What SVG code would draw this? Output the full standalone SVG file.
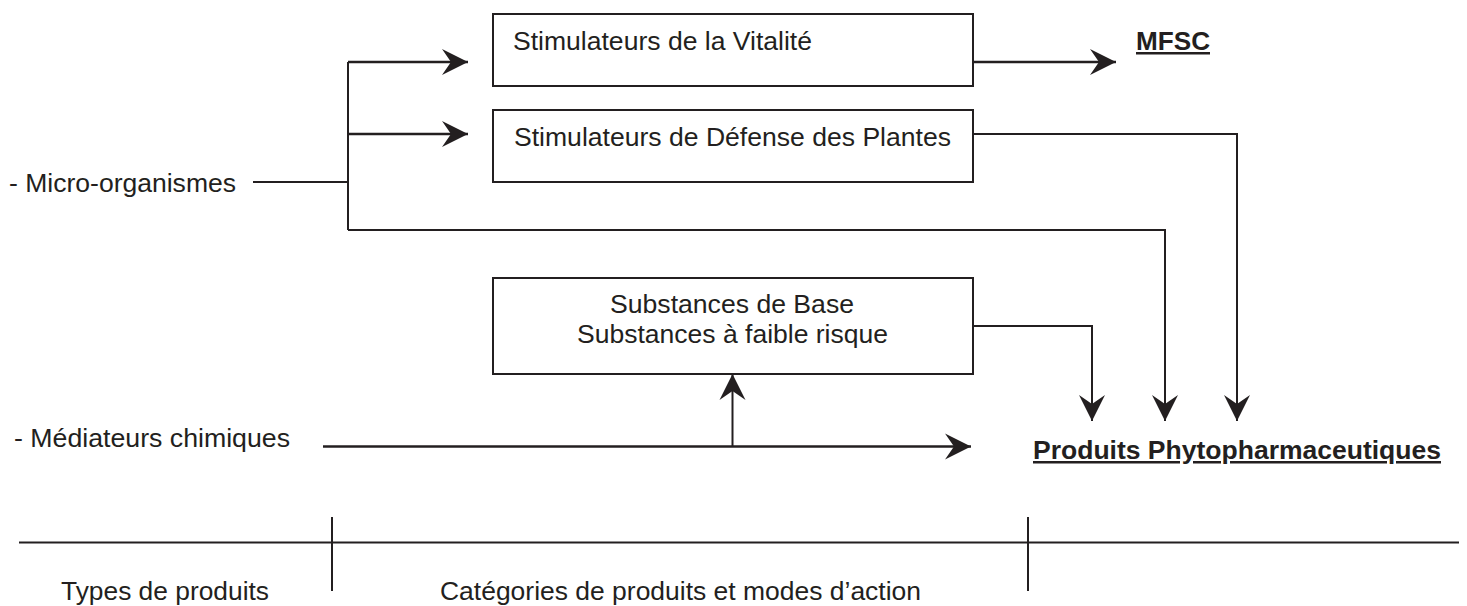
<svg xmlns="http://www.w3.org/2000/svg" width="1467" height="606" viewBox="0 0 1467 606">
<defs>
<style>
.box{fill:#fff;stroke:#231f20;stroke-width:2}
.ln{fill:none;stroke:#231f20;stroke-width:2.6}
.ln2{fill:none;stroke:#231f20;stroke-width:2}
.t{font-family:"Liberation Sans",Arial,sans-serif;font-size:25px;fill:#231f20}
.b{font-weight:bold;text-decoration:underline}
</style>
<marker id="ah" markerUnits="userSpaceOnUse" markerWidth="30" markerHeight="30" viewBox="-28 -15 30 30" refX="0" refY="0" orient="auto">
<path d="M0,0 L-26,-13 L-17,0 L-26,13 Z" fill="#231f20"/>
</marker>
</defs>
<rect width="1467" height="606" fill="#fff"/>
<g id="connectors">
<polyline class="ln2" points="253,182 348,182"/>
<polyline class="ln2" points="348,62 348,230"/>
<polyline class="ln" points="348,62 468,62" marker-end="url(#ah)"/>
<polyline class="ln" points="348,134 468,134" marker-end="url(#ah)"/>
<polyline class="ln2" points="348,230 1165,230 1165,421" marker-end="url(#ah)"/>
<polyline class="ln" points="973,62 1116,62" marker-end="url(#ah)"/>
<polyline class="ln2" points="973,134 1237,134 1237,421" marker-end="url(#ah)"/>
<polyline class="ln2" points="973,326 1092,326 1092,421" marker-end="url(#ah)"/>
<polyline class="ln" points="323,446.5 971,446.5" marker-end="url(#ah)"/>
<polyline class="ln2" points="732.5,446 732.5,374" marker-end="url(#ah)"/>
</g>
<g id="n-vitalite">
<rect class="box" x="493" y="14" width="480" height="72"/>
<text class="t" x="513" y="50" textLength="299" lengthAdjust="spacingAndGlyphs">Stimulateurs de la Vitalité</text>
</g>
<g id="n-defense">
<rect class="box" x="493" y="110" width="480" height="72"/>
<text class="t" x="514" y="146" textLength="437" lengthAdjust="spacingAndGlyphs">Stimulateurs de Défense des Plantes</text>
</g>
<g id="n-substances">
<rect class="box" x="493" y="278" width="480" height="96"/>
<text class="t" x="732" y="313" text-anchor="middle" textLength="244" lengthAdjust="spacingAndGlyphs">Substances de Base</text>
<text class="t" x="732.5" y="343" text-anchor="middle" textLength="311" lengthAdjust="spacingAndGlyphs">Substances à faible risque</text>
</g>
<g id="n-mfsc"><text class="t b" x="1136" y="50" textLength="74" lengthAdjust="spacingAndGlyphs">MFSC</text></g>
<g id="n-produits"><text class="t b" x="1033" y="459" textLength="408" lengthAdjust="spacingAndGlyphs">Produits Phytopharmaceutiques</text></g>
<g id="n-micro"><text class="t" x="9" y="192" textLength="227" lengthAdjust="spacingAndGlyphs">- Micro-organismes</text></g>
<g id="n-mediateurs"><text class="t" x="14" y="447" textLength="276" lengthAdjust="spacingAndGlyphs">- Médiateurs chimiques</text></g>
<g id="axis">
<line class="ln2" x1="19" y1="542.5" x2="1459" y2="542.5"/>
<line class="ln2" x1="332" y1="517" x2="332" y2="591"/>
<line class="ln2" x1="1028" y1="517" x2="1028" y2="591"/>
<text class="t" x="61" y="600" textLength="208" lengthAdjust="spacingAndGlyphs">Types de produits</text>
<text class="t" x="440" y="600" textLength="481" lengthAdjust="spacingAndGlyphs">Catégories de produits et modes d’action</text>
</g>
</svg>
